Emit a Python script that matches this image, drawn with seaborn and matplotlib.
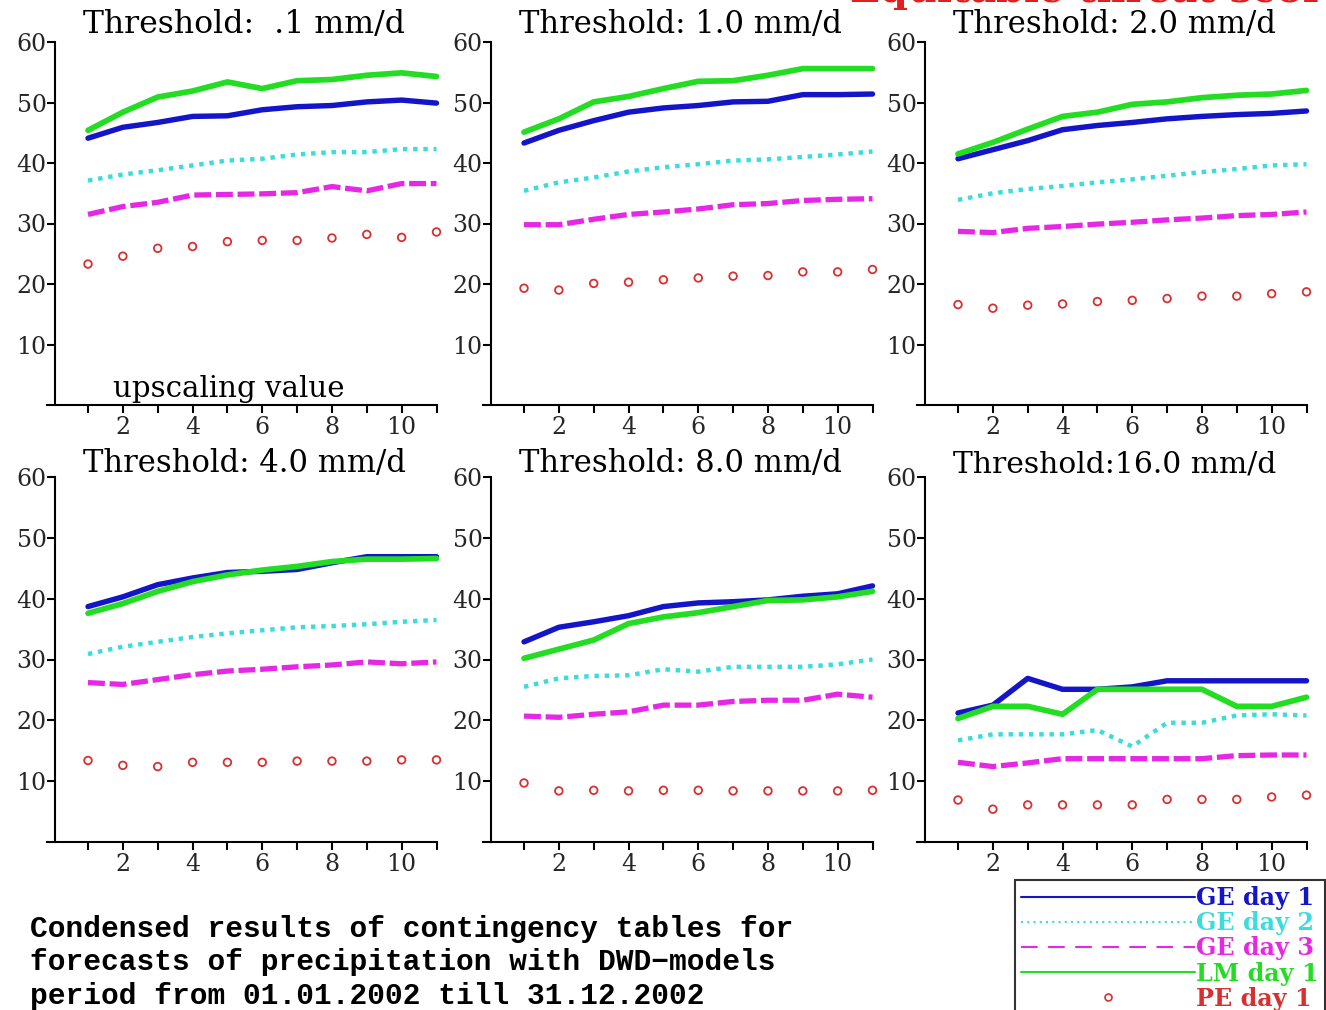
import matplotlib
matplotlib.use("Agg")
import matplotlib.pyplot as plt
import seaborn as sns
from matplotlib.lines import Line2D

# ---------------- data ----------------
UPSCALING = list(range(1, 12))
THRESHOLD_LABELS = ["Threshold:  .1 mm/d", "Threshold: 1.0 mm/d", "Threshold: 2.0 mm/d",
                    "Threshold: 4.0 mm/d", "Threshold: 8.0 mm/d", "Threshold:16.0 mm/d"]

GE_DAY1 = [
    [44.1, 45.9, 46.7, 47.7, 47.8, 48.8, 49.3, 49.5, 50.1, 50.4, 49.9],
    [43.3, 45.4, 47.0, 48.4, 49.1, 49.5, 50.1, 50.2, 51.3, 51.3, 51.4],
    [40.7, 42.2, 43.7, 45.5, 46.2, 46.7, 47.3, 47.7, 48.0, 48.2, 48.6],
    [38.7, 40.3, 42.3, 43.4, 44.3, 44.5, 44.8, 45.9, 46.9, 46.9, 46.9],
    [32.9, 35.3, 36.2, 37.2, 38.7, 39.3, 39.5, 39.8, 40.4, 40.8, 42.1],
    [21.2, 22.5, 26.9, 25.1, 25.1, 25.5, 26.5, 26.5, 26.5, 26.5, 26.5],
]
GE_DAY2 = [
    [37.1, 38.1, 38.8, 39.6, 40.4, 40.7, 41.4, 41.8, 41.8, 42.3, 42.3],
    [35.4, 36.8, 37.6, 38.6, 39.3, 39.8, 40.4, 40.6, 41.0, 41.4, 41.9],
    [33.9, 35.0, 35.7, 36.2, 36.8, 37.3, 37.9, 38.5, 39.0, 39.6, 39.8],
    [30.9, 32.1, 32.9, 33.7, 34.3, 34.8, 35.3, 35.5, 35.8, 36.2, 36.5],
    [25.5, 26.9, 27.3, 27.4, 28.4, 28.0, 28.8, 28.8, 28.8, 29.2, 30.0],
    [16.7, 17.7, 17.7, 17.7, 18.4, 15.7, 19.6, 19.6, 20.8, 21.0, 20.8],
]
GE_DAY3 = [
    [31.5, 32.8, 33.5, 34.7, 34.8, 34.9, 35.1, 36.1, 35.4, 36.6, 36.6],
    [29.8, 29.8, 30.7, 31.5, 31.9, 32.4, 33.1, 33.3, 33.8, 34.0, 34.1],
    [28.7, 28.5, 29.2, 29.5, 29.9, 30.2, 30.6, 30.9, 31.3, 31.5, 31.9],
    [26.2, 25.9, 26.7, 27.5, 28.1, 28.4, 28.8, 29.1, 29.6, 29.3, 29.6],
    [20.7, 20.5, 21.0, 21.4, 22.5, 22.5, 23.1, 23.3, 23.3, 24.3, 23.8],
    [13.1, 12.4, 13.0, 13.7, 13.7, 13.7, 13.7, 13.7, 14.2, 14.3, 14.3],
]
LM_DAY1 = [
    [45.4, 48.4, 50.9, 51.9, 53.4, 52.3, 53.6, 53.8, 54.5, 54.9, 54.3],
    [45.1, 47.3, 50.1, 51.0, 52.3, 53.5, 53.6, 54.5, 55.6, 55.6, 55.6],
    [41.5, 43.4, 45.6, 47.7, 48.4, 49.7, 50.1, 50.8, 51.2, 51.4, 52.0],
    [37.6, 39.2, 41.2, 42.8, 43.9, 44.7, 45.3, 46.1, 46.5, 46.5, 46.6],
    [30.2, 31.7, 33.2, 35.9, 37.0, 37.7, 38.7, 39.7, 39.8, 40.3, 41.2],
    [20.3, 22.3, 22.3, 21.0, 25.1, 25.1, 25.1, 25.1, 22.3, 22.3, 23.8],
]
PE_DAY1 = [
    [23.3, 24.6, 25.9, 26.2, 27.0, 27.2, 27.2, 27.6, 28.2, 27.7, 28.6],
    [19.3, 19.0, 20.1, 20.3, 20.7, 21.0, 21.3, 21.4, 22.0, 22.0, 22.4],
    [16.6, 16.0, 16.5, 16.7, 17.1, 17.3, 17.6, 18.0, 18.0, 18.4, 18.7],
    [13.4, 12.6, 12.4, 13.1, 13.1, 13.1, 13.3, 13.3, 13.3, 13.5, 13.5],
    [9.7, 8.4, 8.5, 8.4, 8.5, 8.5, 8.4, 8.4, 8.4, 8.4, 8.5],
    [6.9, 5.4, 6.1, 6.1, 6.1, 6.1, 7.0, 7.0, 7.0, 7.4, 7.7],
]
SERIES_NAMES = ["GE day 1", "GE day 2", "GE day 3", "LM day 1", "PE day 1"]
X_MAJOR_TICKS = [2, 4, 6, 8, 10]
Y_TICKS = [10, 20, 30, 40, 50, 60]
FOOTER_LINES = ["Condensed results of contingency tables for",
                "forecasts of precipitation with DWD\u2212models",
                "period from 01.01.2002 till 31.12.2002"]
TOP_TITLE = "Equitable threat score"
X_LABEL = "upscaling value"

# ---------------- style ----------------
sns.set_style("white")
SERIF = ["DejaVu Serif", "Liberation Serif"]
MONO = ["Liberation Mono", "DejaVu Sans Mono"]
plt.rcParams["font.family"] = SERIF

BLUE = "#1414C8"
CYAN = "#3CDCDC"
MAGENTA = "#E628E6"
GREEN = "#22DD22"
RED = "#D83030"

W, H = 1326, 1010
fig = plt.figure(figsize=(W / 100, H / 100), dpi=100)
renderer = fig.canvas.get_renderer()


def fit_width(txt, target_px):
    bb = txt.get_window_extent(renderer)
    txt.set_fontsize(txt.get_fontsize() * target_px / bb.width)


UNIT = 34.85
XL = (-0.18, 11.0)
col_x1 = [88, 524, 958]
rows = [(42, 405), (477, 842)]   # (px of 60, px of 0)
title_off = [1.5, 0.8]

for i in range(6):
    r, c = divmod(i, 3)
    top, bot = rows[r]
    left_px = col_x1[c] + (XL[0] - 1) * UNIT
    width_px = (XL[1] - XL[0]) * UNIT
    ax = fig.add_axes([left_px / W, 1 - bot / H, width_px / W, (bot - top) / H])
    ax.set_facecolor("none")

    sns.lineplot(x=UPSCALING, y=GE_DAY2[i], ax=ax, color=CYAN, linewidth=3.2,
                 linestyle=(0, (1.0, 1.3)), clip_on=False)
    sns.lineplot(x=UPSCALING, y=GE_DAY3[i], ax=ax, color=MAGENTA, linewidth=3.8,
                 linestyle=(0, (3.2, 0.9)), clip_on=False)
    sns.lineplot(x=UPSCALING, y=GE_DAY1[i], ax=ax, color=BLUE, linewidth=3.9, clip_on=False)
    sns.lineplot(x=UPSCALING, y=LM_DAY1[i], ax=ax, color=GREEN, linewidth=4.1, clip_on=False)
    sns.scatterplot(x=UPSCALING, y=PE_DAY1[i], ax=ax, marker="o", s=30,
                    fc="none", ec=RED, linewidth=1.3, clip_on=False)

    ax.set_xlim(*XL)
    ax.set_ylim(0, 60)
    ax.set_xticks(X_MAJOR_TICKS)
    ax.set_xticks(UPSCALING, minor=True)
    ax.set_yticks(Y_TICKS)
    ax.set_xticklabels([str(t) for t in X_MAJOR_TICKS])
    ax.set_yticklabels([str(t) for t in Y_TICKS])
    ax.tick_params(axis="both", which="both", direction="out", length=6, width=1.5,
                   color="black", labelsize=17, bottom=True, left=True)
    ax.tick_params(axis="x", which="both", pad=2)
    ax.tick_params(axis="y", which="both", pad=0)
    for s in ("top", "right"):
        ax.spines[s].set_visible(False)
    for s in ("left", "bottom"):
        ax.spines[s].set_linewidth(1.5)
        ax.spines[s].set_color("black")
    ax.spines["left"].set_position(("data", 0.05))
    ax.set_xlabel("")
    ax.set_ylabel("")

    t = ax.text(0.87, 60 + title_off[r], THRESHOLD_LABELS[i], fontsize=18,
                ha="left", va="baseline", color="black")
    fit_width(t, 322)
    if i == 0:
        t = ax.text(1.72, 1.3, X_LABEL, fontsize=18, ha="left", va="baseline", color="black")
        fit_width(t, 232)

# footer (monospaced, as in the reference)
ft = []
for k, line in enumerate(FOOTER_LINES):
    ft.append(fig.text(30 / W, 1 - (937 + 33.5 * k) / H, line, fontsize=21,
                       family=MONO, fontweight="bold",
                       ha="left", va="baseline", color="black"))
bb0 = ft[0].get_window_extent(renderer)
fsz = 21 * 760 / bb0.width
for t in ft:
    t.set_fontsize(fsz)

# red top title (mostly cut at figure top, as in the reference)
tt = fig.text(850 / W, 1 - 2 / H, TOP_TITLE, fontsize=24, fontweight="bold",
              ha="left", va="baseline", color="#E02020")
fit_width(tt, 500)

# legend
handles = [
    Line2D([], [], color=BLUE, lw=1.5),
    Line2D([], [], color=CYAN, lw=1.5, ls=(0, (1, 2))),
    Line2D([], [], color=MAGENTA, lw=1.5, ls=(0, (8, 5))),
    Line2D([], [], color=GREEN, lw=1.5),
    Line2D([], [], ls="none", marker="o", mfc="none", mec=RED, ms=5, mew=1.2),
]
probe = fig.text(0, 0, "GE day 1", fontsize=16, fontweight="bold")
lsz = 16 * 118 / probe.get_window_extent(renderer).width
probe.remove()
leg = fig.legend(handles, SERIES_NAMES, loc="upper left",
                 bbox_to_anchor=(1015 / W, 1 - 880 / H), borderaxespad=0,
                 frameon=True, fancybox=False, handlelength=174 / (lsz * 100 / 72),
                 handletextpad=0.05, labelspacing=0.05, borderpad=0.25, numpoints=1,
                 prop={"family": SERIF, "weight": "bold", "size": lsz},
                 labelcolor=[BLUE, CYAN, MAGENTA, GREEN, RED])
leg.get_frame().set_edgecolor("black")
leg.get_frame().set_linewidth(1.5)

fig.savefig("out.png", dpi=100)
